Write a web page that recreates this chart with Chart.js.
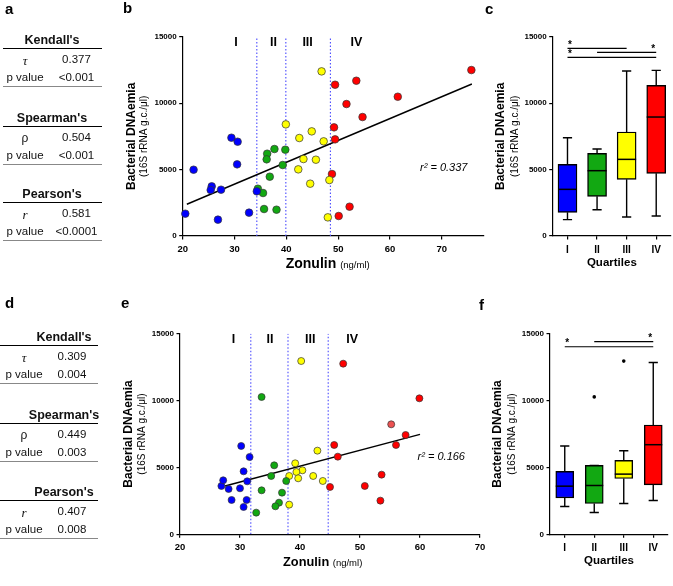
<!DOCTYPE html>
<html><head><meta charset="utf-8">
<script src="https://cdn.jsdelivr.net/npm/chart.js@4.4.1/dist/chart.umd.min.js"></script>
<style>
html,body{margin:0;padding:0;background:#fff;}
#wrap{position:relative;width:673px;height:586px;overflow:hidden;font-family:"Liberation Sans",Arial,Helvetica,sans-serif;color:#111;}
canvas{position:absolute;left:0;top:0;}
.t{position:absolute;white-space:nowrap;line-height:1;transform:translate(-50%,-50%);}
.hl{position:absolute;height:0;}
.lt{position:absolute;font-weight:bold;font-size:15px;line-height:1;color:#000;}
</style></head>
<body><div id="wrap">
<canvas id="cb" width="673" height="586"></canvas>
<canvas id="cc" width="673" height="586"></canvas>
<canvas id="ce" width="673" height="586"></canvas>
<canvas id="cf" width="673" height="586"></canvas>
</div>
<script>
// ---------------- DATA ----------------
const CATS = ['I','II','III','IV'];
const Y_TICKS = [0, 5000, 10000, 15000];
const X_TICKS = [20, 30, 40, 50, 60, 70];

// panel b: scatter (Zonulin ng/ml, DNAemia)
const bGroupI   = [[20.5,1680],[22.1,4990],[25.6,3737],[25.4,3461],[27.4,3486],[26.8,1229],[29.4,7399],[30.6,7098],[30.5,5392],[32.8,1756],[34.3,3361]];
const bGroupII  = [[34.5,3561],[35.5,3235],[36.3,6195],[36.2,5769],[36.8,4464],[37.7,6546],[35.7,2031],[38.1,1981],[39.3,5342],[39.8,6496]];
const bGroupIII = [[46.8,12390],[39.9,8402],[42.5,7374],[44.9,7875],[47.2,7123],[43.3,5794],[45.7,5743],[42.3,5016],[44.6,3938],[48.3,4213],[48.0,1404]];
const bGroupIV  = [[75.7,12490],[49.4,11386],[53.5,11687],[51.6,9932],[61.5,10483],[54.7,8954],[49.2,8176],[49.4,7273],[48.8,4665],[52.2,2207],[50.1,1505]];
const bCuts = [34.3, 39.9, 48.5];
const bRegLine = [[20.8,2390],[75.8,11440]];
const bQuartLabelX = [30.3, 37.5, 44.1, 53.5];
const bR2 = 'r² = 0.337';

// panel c: box plots
const cMin = [1229, 1981, 1430, 1505];
const cQ1  = [1781, 2985, 4264, 4715];
const cMed = [3511, 4916, 5768, 8954];
const cQ3  = [5392, 6220, 7825, 11336];
const cMax = [7399, 6546, 12415, 12465];
const cSig = [{from:0,to:2,y:14120,star:'from'},{from:1,to:3,y:13820,star:'to'},{from:0,to:3,y:13443,star:'from'}];

// panel e: scatter
const eGroupI   = [[26.9,3613],[27.2,4037],[28.1,3389],[28.6,2567],[30.2,6604],[30.6,4710],[30.0,3439],[30.6,2043],[31.1,2567],[31.2,3962],[31.6,5781]];
const eGroupII  = [[33.6,10267],[35.7,5158],[35.2,4361],[33.6,3289],[32.7,1620],[37.0,3115],[36.5,2367],[35.9,2093],[37.7,3987]];
const eGroupIII = [[40.2,12958],[42.9,6255],[39.2,5308],[40.4,4785],[39.4,4660],[38.2,4361],[39.7,4187],[42.2,4361],[43.8,3987],[38.2,2218]];
const eGroupIV  = [[47.2,12759],[59.9,10167],[55.2,8224],[57.6,7426],[45.7,6679],[56.0,6679],[46.3,5806],[53.6,4461],[45.0,3539],[50.8,3613],[53.4,2517]];
const eCuts = [31.8, 38.0, 44.7];
const eRegLine = [[27.5,3613],[60.0,7476]];
const eQuartLabelX = [28.9, 35.0, 41.7, 48.7];
const eR2 = 'r² = 0.166';

// panel f: box plots
const fMin = [2075, 1625, 2300, 2525];
const fQ1  = [2725, 2300, 4175, 3700];
const fMed = [3600, 3650, 4500, 6700];
const fQ3  = [4700, 5150, 5525, 8175];
const fMax = [6600, 5150, 6250, 12850];
const fOutliers = [null, 10275, 12950, null];
const fSig = [{from:1,to:3,y:14400,star:'to'},{from:0,to:3,y:14025,star:'from'}];

// tables a and d
const statHeads = ["Kendall's", "Spearman's", "Pearson's"];
const statSyms = ['τ', 'ρ', 'r'];
const aValues = ['0.377', '0.504', '0.581'];
const aPvalues = ['<0.001', '<0.001', '<0.0001'];
const dValues = ['0.309', '0.449', '0.407'];
const dPvalues = ['0.004', '0.003', '0.008'];

// ---------------- STYLE ----------------
const FONT = '"Liberation Sans", Arial, Helvetica, sans-serif';
const COLORS = ['#0000ff', '#12a812', '#ffff00', '#ff0000'];
const Y_TITLE = 'Bacterial DNAemia';
const Y_SUB = '(16S rRNA g.c./μl)';
const YW = 34, XH = 22;   // room kept for tick labels inside the scale boxes
Chart.defaults.font.family = FONT;
Chart.defaults.color = '#000';

function padFor(area){ return {left:area.l - YW, top:area.t, right:673-area.r, bottom:586-area.b-XH}; }

function yScale(){
  return {type:'linear', min:0, max:15000,
    afterFit(s){ s.width = YW; },
    afterBuildTicks(s){ s.ticks = Y_TICKS.map(v=>({value:v})); },
    ticks:{font:{size:8, weight:'bold'}, padding:2.5, callback:v=>String(v)},
    grid:{drawOnChartArea:false, tickLength:3.5, color:'#000', lineWidth:1.2},
    border:{color:'#000', width:1.2}};
}

function yTitles(ctx, a, off1, off2){
  const cy = (a.top + a.bottom)/2;
  ctx.save(); ctx.translate(a.left - off1, cy); ctx.rotate(-Math.PI/2);
  ctx.textAlign='center'; ctx.textBaseline='middle'; ctx.fillStyle='#000';
  ctx.font = 'bold 12px ' + FONT; ctx.fillText(Y_TITLE, 0, 0); ctx.restore();
  ctx.save(); ctx.translate(a.left - off2, cy); ctx.rotate(-Math.PI/2);
  ctx.textAlign='center'; ctx.textBaseline='middle'; ctx.fillStyle='#000';
  ctx.font = '10px ' + FONT; ctx.fillText(Y_SUB, 0, 0); ctx.restore();
}

function makeScatter(id, groups, cuts, reg, area, xMax, qLabX, qLabY, r2, r2X, r2Y, zonSize, ptR, pointColors){
  const ds = [];
  groups.forEach((g,i)=>ds.push({data:g.map(p=>({x:p[0], y:p[1]})),
    backgroundColor: (pointColors && pointColors[i]) ? pointColors[i] : COLORS[i],
    borderColor:'#333', borderWidth:0.7, pointRadius:ptR, clip:false}));
  ds.push({data:reg.map(p=>({x:p[0], y:p[1]})), showLine:true, borderColor:'#000', borderWidth:1.4, pointRadius:0, clip:false});
  cuts.forEach(c=>ds.push({data:[{x:c,y:0},{x:c,y:15000}], showLine:true, borderColor:'#4a4aff', borderWidth:1.1, borderDash:[1.5,2], pointRadius:0}));
  const textPlugin = {id:'scText', afterDraw(chart){
    const ctx = chart.ctx, a = chart.chartArea, x = chart.scales.x, y = chart.scales.y;
    ctx.save(); ctx.fillStyle='#000';
    ctx.font = 'bold 12.5px ' + FONT; ctx.textAlign='center'; ctx.textBaseline='middle';
    CATS.forEach((c,i)=>ctx.fillText(c, x.getPixelForValue(qLabX[i]), y.getPixelForValue(qLabY)));
    ctx.font = 'italic 11px ' + FONT; ctx.textAlign='left';
    ctx.fillText(r2, x.getPixelForValue(r2X), y.getPixelForValue(r2Y));
    // x title
    ctx.textBaseline='alphabetic';
    ctx.font = 'bold ' + zonSize + 'px ' + FONT;
    const x0 = a.left + 103, base = a.bottom + 32;
    ctx.fillText('Zonulin', x0, base);
    const w = ctx.measureText('Zonulin ').width;
    ctx.font = '9.5px ' + FONT;
    ctx.fillText('(ng/ml)', x0 + w, base);
    ctx.restore();
    yTitles(ctx, a, 51.5, 38);
  }};
  return new Chart(document.getElementById(id), {type:'scatter', data:{datasets:ds},
    options:{responsive:false, animation:false, layout:{padding:padFor(area)},
      plugins:{legend:{display:false}, tooltip:{enabled:false}},
      scales:{
        x:{type:'linear', min:20, max:xMax,
          afterFit(s){ s.height = XH; },
          afterBuildTicks(s){ s.ticks = X_TICKS.filter(v=>v<=xMax).map(v=>({value:v})); },
          ticks:{font:{size:9.5, weight:'bold'}, padding:4, maxRotation:0, autoSkip:false, callback:v=>String(v)},
          grid:{drawOnChartArea:false, tickLength:3.5, color:'#000', lineWidth:1.2},
          border:{color:'#000', width:1.2}},
        y:yScale()}},
    plugins:[textPlugin]});
}

function makeBox(id, mn, q1, med, q3, mx, sig, area, barW, outliers){
  const datasets = [{type:'bar', data:q1.map((v,i)=>[v, q3[i]]), backgroundColor:COLORS,
    borderColor:'#000', borderWidth:1.4, borderSkipped:false, barThickness:barW, order:2}];
  if (outliers) datasets.push({type:'line', data:outliers, showLine:false, pointRadius:1.8,
    pointBackgroundColor:'#000', pointBorderColor:'#000', borderWidth:0, order:1, clip:false});
  const boxPlugin = {id:'boxExtras',
    beforeDatasetsDraw(chart){
      const ctx = chart.ctx, x = chart.scales.x, y = chart.scales.y;
      ctx.save(); ctx.strokeStyle='#000'; ctx.lineWidth=1.4;
      CATS.forEach((c,i)=>{
        const px = x.getPixelForValue(i), cap = 4.6;
        ctx.beginPath();
        ctx.moveTo(px, y.getPixelForValue(q3[i])); ctx.lineTo(px, y.getPixelForValue(mx[i]));
        ctx.moveTo(px-cap, y.getPixelForValue(mx[i])); ctx.lineTo(px+cap, y.getPixelForValue(mx[i]));
        ctx.moveTo(px, y.getPixelForValue(q1[i])); ctx.lineTo(px, y.getPixelForValue(mn[i]));
        ctx.moveTo(px-cap, y.getPixelForValue(mn[i])); ctx.lineTo(px+cap, y.getPixelForValue(mn[i]));
        ctx.stroke();
      });
      ctx.restore();
    },
    afterDatasetsDraw(chart){
      const ctx = chart.ctx, x = chart.scales.x, y = chart.scales.y, a = chart.chartArea;
      ctx.save(); ctx.strokeStyle='#000'; ctx.lineWidth=1.5;
      CATS.forEach((c,i)=>{
        const px = x.getPixelForValue(i), py = y.getPixelForValue(med[i]);
        ctx.beginPath(); ctx.moveTo(px-barW/2, py); ctx.lineTo(px+barW/2, py); ctx.stroke();
      });
      ctx.lineWidth = 1.2; ctx.fillStyle='#000';
      ctx.font = 'bold 10px ' + FONT; ctx.textAlign='center'; ctx.textBaseline='middle';
      sig.forEach(s=>{
        const x1 = x.getPixelForValue(s.from), x2 = x.getPixelForValue(s.to), py = y.getPixelForValue(s.y);
        ctx.beginPath(); ctx.moveTo(x1, py); ctx.lineTo(x2, py); ctx.stroke();
        const sx = s.star === 'from' ? x1 + 2.5 : x2 - 3;
        ctx.fillText('*', sx, py - 3);
      });
      ctx.font = 'bold 11.5px ' + FONT; ctx.textBaseline='alphabetic';
      ctx.fillText('Quartiles', (a.left + a.right)/2, a.bottom + 29.5);
      ctx.restore();
      yTitles(ctx, a, 52, 37.5);
    }};
  return new Chart(document.getElementById(id), {type:'bar', data:{labels:CATS, datasets},
    options:{responsive:false, animation:false, layout:{padding:padFor(area)},
      plugins:{legend:{display:false}, tooltip:{enabled:false}},
      scales:{
        x:{type:'category', offset:true,
          afterFit(s){ s.height = XH; },
          ticks:{font:{size:10, weight:'bold'}, padding:4.5, maxRotation:0, autoSkip:false},
          grid:{offset:false, drawOnChartArea:false, tickLength:3.5, color:'#000', lineWidth:1.2},
          border:{color:'#000', width:1.2}},
        y:yScale()}},
    plugins:[boxPlugin]});
}

makeScatter('cb', [bGroupI,bGroupII,bGroupIII,bGroupIV], bCuts, bRegLine,
  {l:182.7, t:36.7, r:483.3, b:236}, 78, bQuartLabelX, 14560, bR2, 65.8, 5092, 14, 3.8);
makeBox('cc', cMin, cQ1, cMed, cQ3, cMax, cSig, {l:552.7, t:36.7, r:671, b:236}, 19, null);
const eRedColors = eGroupIV.map((p,i)=> i===2 ? '#ec5252' : COLORS[3]);
makeScatter('ce', [eGroupI,eGroupII,eGroupIII,eGroupIV], eCuts, eRegLine,
  {l:180, t:333.7, r:480, b:534.3}, 70, eQuartLabelX, 14580, eR2, 59.6, 5806, 12.8, 3.5, [null,null,null,eRedColors]);
makeBox('cf', fMin, fQ1, fMed, fQ3, fMax, fSig, {l:550, t:333.7, r:668, b:534.3}, 18, fOutliers);

// ---------------- TABLES & PANEL LETTERS (HTML text) ----------------
const wrap = document.getElementById('wrap');
function addText(txt, cx, cy, css){
  const d = document.createElement('div'); d.className='t'; d.textContent = txt;
  d.style.left = cx + 'px'; d.style.top = cy + 'px'; d.style.cssText += css; wrap.appendChild(d);
}
function addLine(x0, x1, y, color, w){
  const d = document.createElement('div'); d.className='hl';
  d.style.left = x0+'px'; d.style.width = (x1-x0)+'px'; d.style.top = (y - w/2)+'px';
  d.style.borderTop = w+'px solid '+color; wrap.appendChild(d);
}
function buildTable(vals, pvals, g){
  statHeads.forEach((h,i)=>{
    const y0 = g.tops[i];
    addText(h, g.headX, y0, 'font-weight:bold;font-size:12.5px;');
    addLine(g.x0, g.x1, y0 + 8.8, '#000', 1.3);
    const symCss = i === 1 ? 'font-size:12px;' : 'font-family:"Liberation Serif","Times New Roman",serif;font-style:italic;font-size:13px;';
    addText(statSyms[i], g.symX, y0 + 20, symCss);
    addText(vals[i], g.valX, y0 + 20, 'font-size:11.5px;');
    addText('p value', g.symX, y0 + 38.3, 'font-size:11.5px;');
    addText(pvals[i], g.valX, y0 + 38.3, 'font-size:11.5px;');
    addLine(g.x0, g.x1, y0 + 46.8, '#888', 1.3);
  });
}
buildTable(aValues, aPvalues, {tops:[40, 118, 194], x0:3, x1:102, headX:52, symX:25, valX:76.5});
buildTable(dValues, dPvalues, {tops:[336.5, 414.5, 491.5], x0:0, x1:98, headX:64, symX:24, valX:72});

function addLetter(ch, x, base){
  const d = document.createElement('div'); d.className='lt'; d.textContent = ch;
  d.style.left = x+'px'; d.style.top = (base - 12.7)+'px'; wrap.appendChild(d);
}
addLetter('a', 5, 13.3); addLetter('b', 123, 13); addLetter('c', 485, 14);
addLetter('d', 5, 308); addLetter('e', 121, 308); addLetter('f', 479, 310);
</script>
</body></html>
